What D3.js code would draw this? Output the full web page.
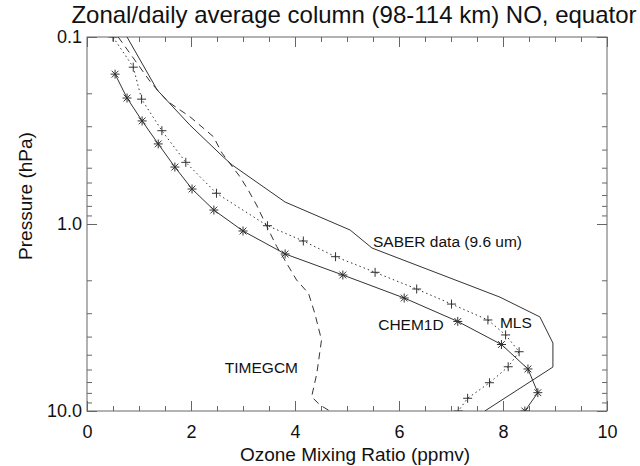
<!DOCTYPE html>
<html>
<head>
<meta charset="utf-8">
<script src="https://cdn.jsdelivr.net/npm/d3@7"></script>
<style>
  body { margin: 0; background: #fff; }
  text { font-family: "Liberation Sans", Arial, Helvetica, sans-serif; fill: #111; }
</style>
</head>
<body>
<svg id="chart" width="640" height="466"></svg>
<script>
// Data (ozone in ppmv, pressure in hPa)
var saberOzone    = [0.77, 1.35, 1.98, 2.62, 2.79, 3.81, 5.06, 5.48, 7.94, 8.71, 8.96, 8.96, 7.65];
var saberPressure = [0.1, 0.192, 0.296, 0.438, 0.483, 0.763, 1.077, 1.344, 2.46, 3.14, 4.33, 5.82, 10];

var mlsOzone    = [0.5, 0.89, 1.05, 1.44, 1.90, 2.49, 3.47, 4.16, 4.78, 5.54, 6.34, 7.01, 7.71, 8.05, 8.31, 8.10, 7.74, 7.32, 7.14];
var mlsPressure = [0.1, 0.145, 0.215, 0.317, 0.468, 0.685, 1.021, 1.233, 1.496, 1.813, 2.227, 2.68, 3.26, 3.92, 4.82, 5.80, 7.06, 8.55, 10];

var chemOzone    = [0.54, 0.77, 1.06, 1.37, 1.69, 2.02, 2.44, 3.00, 3.81, 4.92, 6.10, 7.13, 7.97, 8.48, 8.67, 8.42];
var chemPressure = [0.158, 0.212, 0.281, 0.373, 0.496, 0.650, 0.842, 1.090, 1.446, 1.874, 2.488, 3.32, 4.41, 5.96, 7.98, 10];

var timeOzone    = [0.6, 1.24, 1.56, 1.98, 2.43, 2.60, 2.94, 3.10, 3.26, 3.46, 3.65, 4.03, 4.26, 4.38, 4.51, 4.42, 4.32, 4.48, 4.67];
var timePressure = [0.1, 0.177, 0.222, 0.267, 0.341, 0.419, 0.558, 0.658, 0.791, 1.033, 1.322, 1.992, 2.35, 3.00, 4.17, 6.29, 8.39, 9.29, 10];

var xMajor = [0, 2, 4, 6, 8, 10];
var xMinor = d3.range(0, 10.01, 0.5);
var yMajor = [0.1, 1.0, 10.0];
var yLabels = ["0.1", "1.0", "10.0"];
var yMinor = [0.2, 0.3, 0.4, 0.5, 0.6, 0.7, 0.8, 0.9, 2, 3, 4, 5, 6, 7, 8, 9];

// annotation labels: text, ozone, pressure of baseline start
var labelText = ["SABER data (9.6 um)", "CHEM1D", "MLS", "TIMEGCM"];
var labelX    = [5.5, 5.6, 7.94, 2.65];
var labelP    = [1.327, 3.67, 3.59, 6.27];

var svg = d3.select("#chart");
var mLeft = 87, mRight = 607, mTop = 37, mBottom = 411;

var x = d3.scaleLinear().domain([0, 10]).range([mLeft, mRight]);
var y = d3.scaleLog().domain([0.1, 10]).range([mTop, mBottom]);

var axisColor = "#666";

// ticks (pointing inward, IDL style)
function drawAxis(axis, tx, ty, labels) {
  var g = svg.append("g").attr("transform", "translate(" + tx + "," + ty + ")").call(axis);
  g.select(".domain").remove();
  g.selectAll(".tick line").attr("stroke", axisColor);
  if (!labels) g.selectAll(".tick text").remove();
  return g;
}

drawAxis(d3.axisBottom(x).tickValues(xMinor).tickSize(-5).tickFormat(""), 0, mBottom, false);
drawAxis(d3.axisTop(x).tickValues(xMinor).tickSize(-5).tickFormat(""), 0, mTop, false);
drawAxis(d3.axisTop(x).tickValues(xMajor).tickSize(-10).tickFormat(""), 0, mTop, false);
var xg = drawAxis(d3.axisBottom(x).tickValues(xMajor).tickSize(-10).tickPadding(14).tickFormat(d3.format("d")), 0, mBottom, true);
xg.selectAll(".tick text").attr("font-size", 18).attr("fill", "#111")
  .style("font-family", "Liberation Sans, Arial, sans-serif");

drawAxis(d3.axisLeft(y).tickValues(yMinor).tickSize(-5).tickFormat(""), mLeft, 0, false);
drawAxis(d3.axisRight(y).tickValues(yMinor).tickSize(-5).tickFormat(""), mRight, 0, false);
drawAxis(d3.axisRight(y).tickValues(yMajor).tickSize(-10).tickFormat(""), mRight, 0, false);
var yg = drawAxis(d3.axisLeft(y).tickValues(yMajor).tickSize(-10).tickPadding(5)
  .tickFormat(function (d, i) { return yLabels[i]; }), mLeft, 0, true);
yg.selectAll(".tick text").attr("font-size", 18).attr("fill", "#111")
  .style("font-family", "Liberation Sans, Arial, sans-serif");

// frame
svg.append("rect")
  .attr("x", mLeft).attr("y", mTop)
  .attr("width", mRight - mLeft).attr("height", mBottom - mTop)
  .attr("fill", "none").attr("stroke", axisColor).attr("stroke-width", 1);

// clip for curves
svg.append("clipPath").attr("id", "plotclip")
  .append("rect").attr("x", mLeft).attr("y", mTop)
  .attr("width", mRight - mLeft).attr("height", mBottom - mTop);

var plot = svg.append("g").attr("clip-path", "url(#plotclip)");

var line = d3.line()
  .x(function (d) { return x(d[0]); })
  .y(function (d) { return y(d[1]); });

function curve(ozone, pressure, dash) {
  var pts = d3.zip(ozone, pressure);
  plot.append("path")
    .datum(pts)
    .attr("d", line)
    .attr("fill", "none")
    .attr("stroke", "#333")
    .attr("stroke-width", 1)
    .attr("stroke-dasharray", dash);
  return pts;
}

function markers(pts, shape) {
  var r = 4.5, a = 3.4;
  var d = shape === "asterisk"
    ? "M" + (-r) + ",0L" + r + ",0M0," + (-r) + "L0," + r +
      "M" + (-a) + "," + (-a) + "L" + a + "," + a + "M" + (-a) + "," + a + "L" + a + "," + (-a)
    : "M" + (-r) + ",0L" + r + ",0M0," + (-r) + "L0," + r;
  plot.selectAll(null)
    .data(pts)
    .enter()
    .append("path")
    .attr("transform", function (p) { return "translate(" + x(p[0]) + "," + y(p[1]) + ")"; })
    .attr("d", d)
    .attr("fill", "none")
    .attr("stroke", "#333")
    .attr("stroke-width", 1);
}

curve(saberOzone, saberPressure, null);
curve(timeOzone, timePressure, "7,5");
markers(curve(mlsOzone, mlsPressure, "1.5,3"), "plus");
markers(curve(chemOzone, chemPressure, null), "asterisk");

// curve labels
labelText.forEach(function (t, i) {
  svg.append("text")
    .attr("x", x(labelX[i]))
    .attr("y", y(labelP[i]))
    .attr("font-size", 15.5)
    .text(t);
});

// titles
svg.append("text")
  .attr("x", 354).attr("y", 23)
  .attr("text-anchor", "middle")
  .attr("font-size", 24)
  .text("Zonal/daily average column (98-114 km) NO, equator");

svg.append("text")
  .attr("x", (mLeft + mRight) / 2 + 8).attr("y", 461)
  .attr("text-anchor", "middle")
  .attr("font-size", 19)
  .text("Ozone Mixing Ratio (ppmv)");

svg.append("text")
  .attr("transform", "translate(32," + 196 + ") rotate(-90)")
  .attr("text-anchor", "middle")
  .attr("font-size", 19)
  .text("Pressure (hPa)");
</script>
</body>
</html>
